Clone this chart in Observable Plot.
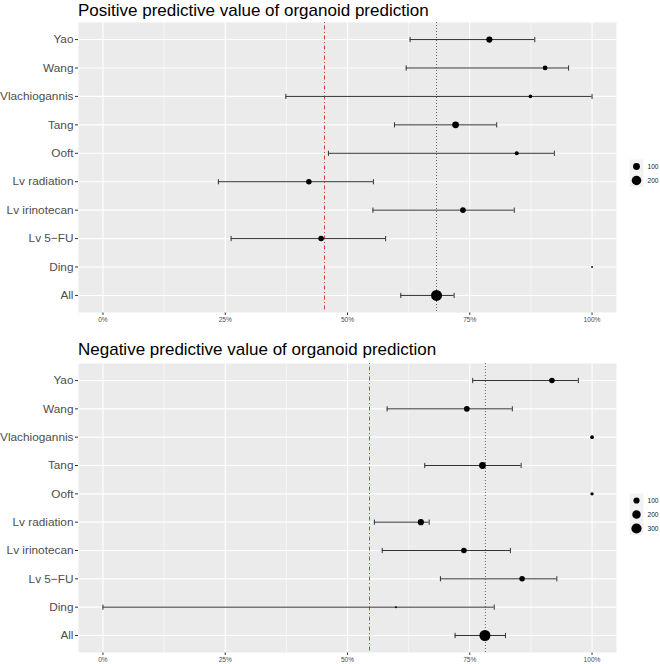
<!DOCTYPE html>
<html>
<head>
<meta charset="utf-8">
<script src="https://cdn.jsdelivr.net/npm/d3@7"></script>
<script src="https://cdn.jsdelivr.net/npm/@observablehq/plot@0.6"></script>
<style>
  body { margin: 0; background: white; }
  #wrap { position: relative; width: 660px; height: 664px; font-family: "Liberation Sans", Arial, sans-serif; }
  .ttl { position: absolute; left: 78px; font-size: 17px; color: #000; white-space: nowrap; line-height: 1; }
  .abs { position: absolute; }
  .abs svg g[aria-label^="x-axis"] text { font-size: 6.6px !important; fill: #4D4D4D; }
  .abs svg g[aria-label^="y-axis"] text { font-size: 11.8px !important; fill: #4D4D4D; }
  .abs svg g[aria-label^="x-axis"] path, .abs svg g[aria-label^="x-axis"] line,
  .abs svg g[aria-label^="y-axis"] path, .abs svg g[aria-label^="y-axis"] line { stroke: #333333; }
</style>
</head>
<body>
<div id="wrap"></div>
<script>
// ---------- data ----------
const studies = ["Yao", "Wang", "Vlachiogannis", "Tang", "Ooft", "Lv radiation", "Lv irinotecan", "Lv 5\u2212FU", "Ding", "All"];

// Positive predictive value (%)
const ppvValue = [79.0, 90.4, 87.4, 72.1, 84.6, 42.1, 73.6, 44.6, 100, 68.2];
const ppvLower = [62.8, 62.0, 37.4, 59.6, 46.1, 23.6, 55.2, 26.2, null, 60.9];
const ppvUpper = [88.3, 95.2, 100, 80.5, 92.3, 55.3, 84.1, 57.8, null, 71.8];
const ppvN     = [79, 44, 24, 97, 31, 62, 62, 62, 4, 270];
const ppvPooled = [68.2];
const ppvRandom = [45.3];
const ppvSizeBreaks = [100, 200];

// Negative predictive value (%)
const npvValue = [91.8, 74.4, 100, 77.6, 100, 65.0, 73.8, 85.7, 59.9, 78.1];
const npvLower = [75.6, 58.1, null, 65.8, null, 55.5, 57.1, 69.0, 0, 72.0];
const npvUpper = [97.2, 83.7, null, 85.5, null, 66.7, 83.3, 92.8, 80.0, 82.3];
const npvN     = [79, 86, 30, 125, 25, 100, 79, 79, 6, 350];
const npvPooled = [78.2];
const npvRandom = [54.5];
const npvSizeBreaks = [100, 200, 300];

const xTicks = [0, 25, 50, 75, 100];
const xMinor = [12.5, 37.5, 62.5, 87.5];

// ---------- helpers ----------
const FONT = '"Liberation Sans", Arial, sans-serif';
const capSymbol = {
  draw(context, size) {
    const h = Math.sqrt(size / Math.PI);
    context.moveTo(0, -h);
    context.lineTo(0, h);
  }
};

function rows(values, lower, upper, n) {
  return studies.map((s, i) => ({study: s, value: values[i], lo: lower[i], hi: upper[i], n: n[i]}));
}

function panel(data, pooled, random, rScale, height, mTop, mBottom) {
  const bars = data.filter(d => d.lo != null && d.hi != null);
  return Plot.plot({
    width: 660,
    height,
    marginLeft: 78,
    marginRight: 44,
    marginTop: mTop,
    marginBottom: mBottom,
    style: {fontFamily: FONT, background: "white", color: "#333"},
    x: {domain: [-5, 105], ticks: xTicks, tickFormat: d => d + "%", tickSize: 3, tickPadding: 2, label: null},
    y: {domain: studies, type: "point", padding: 0.6, round: false, tickSize: 3, tickPadding: 2, label: null},
    r: rScale,
    marks: [
      Plot.frame({fill: "#EBEBEB", stroke: "none"}),
      Plot.ruleX(xMinor, {stroke: "white", strokeWidth: 0.55}),
      Plot.ruleX(xTicks, {stroke: "white", strokeWidth: 1.1}),
      Plot.ruleY(studies, {y: d => d, stroke: "white", strokeWidth: 1.1}),
      Plot.ruleX(random, {stroke: "#E03A3E", strokeWidth: 1, strokeDasharray: "1,2.5,4,2.5"}),
      Plot.ruleX(pooled, {stroke: "#444", strokeWidth: 0.8, strokeDasharray: "1,2"}),
      Plot.ruleY(bars, {y: "study", x1: "lo", x2: "hi", stroke: "#333", strokeWidth: 1}),
      Plot.dot(bars, {x: "lo", y: "study", symbol: capSymbol, r: 2.6, fill: "none", stroke: "#333", strokeWidth: 1}),
      Plot.dot(bars, {x: "hi", y: "study", symbol: capSymbol, r: 2.6, fill: "none", stroke: "#333", strokeWidth: 1}),
      Plot.dot(data, {x: "value", y: "study", r: "n", fill: "black", stroke: "none"})
    ]
  });
}

function sizeLegend(breaks, rScale) {
  return Plot.plot({
    width: 31,
    height: breaks.length * 14,
    margin: 0,
    style: {fontFamily: FONT, background: "transparent"},
    y: {domain: breaks, type: "point", padding: 0.5, round: false, axis: null},
    r: rScale,
    marks: [
      Plot.dot(breaks, {y: d => d, frameAnchor: "left", dx: 7, symbol: "square", r: 7.9, fill: "#F2F2F2", stroke: "none"}),
      Plot.dot(breaks, {y: d => d, frameAnchor: "left", dx: 7, r: d => d, fill: "black", stroke: "none"}),
      Plot.text(breaks, {y: d => d, frameAnchor: "left", dx: 18, text: d => String(d), textAnchor: "start", fontSize: 6.6, fill: "#1A1A1A"})
    ]
  });
}

function place(el, left, top) {
  const d = document.createElement("div");
  d.className = "abs";
  d.style.left = left + "px";
  d.style.top = top + "px";
  d.appendChild(el);
  wrap.appendChild(d);
}
function title(text, top) {
  const t = document.createElement("div");
  t.className = "ttl";
  t.style.top = top + "px";
  t.textContent = text;
  wrap.appendChild(t);
}

const wrap = document.getElementById("wrap");

const rTop = {type: "sqrt", domain: [4, 270], range: [0.9, 5.5]};
const rBottom = {type: "sqrt", domain: [3, 350], range: [0.8, 5.5]};

place(panel(rows(ppvValue, ppvLower, ppvUpper, ppvN), ppvPooled, ppvRandom, rTop, 326, 22, 14), 0, 0);
place(panel(rows(npvValue, npvLower, npvUpper, npvN), npvPooled, npvRandom, rBottom, 323, 22, 12), 0, 341);
place(sizeLegend(ppvSizeBreaks, rTop), 629, 159);
place(sizeLegend(npvSizeBreaks, rBottom), 629, 493);

title("Positive predictive value of organoid prediction", 1.5);
title("Negative predictive value of organoid prediction", 341);
</script>
</body>
</html>
